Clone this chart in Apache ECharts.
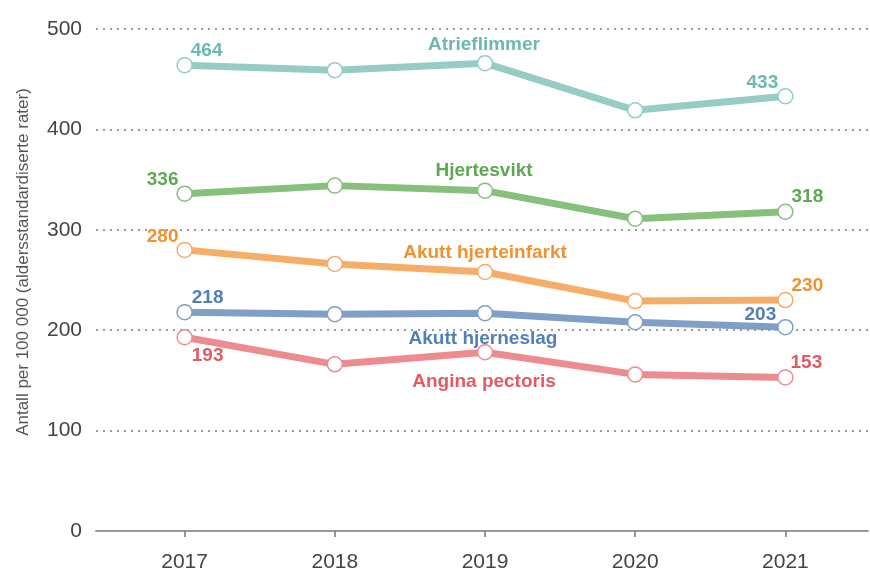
<!DOCTYPE html>
<html>
<head>
<meta charset="utf-8">
<script src="https://cdn.jsdelivr.net/npm/echarts@6/dist/echarts.min.js"></script>
<style>
  html, body { margin: 0; padding: 0; background: #fff; }
  #chart { width: 870px; height: 573px; }
</style>
</head>
<body>
<div id="chart"></div>
<script>
const years = [2017, 2018, 2019, 2020, 2021]
const atrieflimmer = [464, 459, 466, 419, 433]
const hjertesvikt = [336, 344, 339, 311, 318]
const hjerteinfarkt = [280, 266, 258, 229, 230]
const hjerneslag = [218, 216, 217, 208, 203]
const angina = [193, 166, 178, 156, 153]
const yTicks = [0, 100, 200, 300, 400, 500]

// name label at 2019, value labels at 2017 and 2021
const seriesDefs = [
  {
    name: 'Atrieflimmer', values: atrieflimmer, line: '#95ccc6', text: '#6db9b1',
    first: { position: 'top', offset: [22, 8] },
    last: { position: 'top', offset: [-23, 9] },
    mid: { position: 'top', offset: [-1, 4] }
  },
  {
    name: 'Hjertesvikt', values: hjertesvikt, line: '#86c07c', text: '#5ea852',
    first: { position: 'top', offset: [-22, 9] },
    last: { position: 'top', offset: [22, 8] },
    mid: { position: 'top', offset: [-1, 3] }
  },
  {
    name: 'Akutt hjerteinfarkt', values: hjerteinfarkt, line: '#f6ad67', text: '#f0922e',
    first: { position: 'top', offset: [-22, 10] },
    last: { position: 'top', offset: [22, 8] },
    mid: { position: 'top', offset: [0, 4] }
  },
  {
    name: 'Akutt hjerneslag', values: hjerneslag, line: '#7f9fc6', text: '#5180b6',
    first: { position: 'top', offset: [23, 8] },
    last: { position: 'top', offset: [-25, 10] },
    mid: { position: 'bottom', offset: [-2, 3] }
  },
  {
    name: 'Angina pectoris', values: angina, line: '#ec8c90', text: '#e35a62',
    first: { position: 'bottom', offset: [23, -4] },
    last: { position: 'top', offset: [21, 8] },
    mid: { position: 'bottom', offset: [-1, 7] }
  }
]

const baseFont = 'Liberation Sans, Arial, sans-serif'
const labelFont = { fontFamily: baseFont, fontSize: 19, fontWeight: 'bold' }

const chart = echarts.init(document.getElementById('chart'))

chart.setOption({
  animation: false,
  grid: { left: 96, right: 2, top: 29, bottom: 42 },
  xAxis: {
    type: 'value',
    min: 2016.41,
    max: 2021.55,
    axisLine: { show: true, lineStyle: { color: '#9a9a9a', width: 2 } },
    axisTick: { show: true, customValues: years, length: 6, lineStyle: { color: '#777', width: 1.5 } },
    axisLabel: {
      customValues: years,
      color: '#444',
      fontSize: 21,
      fontFamily: baseFont,
      margin: 21,
      formatter: v => String(v)
    },
    splitLine: { show: false }
  },
  yAxis: {
    type: 'value',
    min: yTicks[0],
    max: yTicks[yTicks.length - 1],
    interval: 100,
    name: 'Antall per 100 000 (aldersstandardiserte rater)',
    nameLocation: 'middle',
    nameGap: 64,
    nameTextStyle: { color: '#555', fontSize: 17, fontFamily: baseFont, padding: [0, 0, 0, 36] },
    axisLine: { show: false },
    axisTick: { show: false },
    axisLabel: { color: '#444', fontSize: 21, fontFamily: baseFont, margin: 14, padding: [0, 0, 6, 0] },
    splitLine: {
      show: true,
      lineStyle: { color: '#999', type: [2, 5], width: 2 }
    }
  },
  series: seriesDefs.map(s => ({
    name: s.name,
    type: 'line',
    data: s.values.map((v, i) => {
      const item = { value: [years[i], v] }
      let cfg = null
      let text = null
      if (i === 0) { cfg = s.first; text = String(v) }
      else if (i === s.values.length - 1) { cfg = s.last; text = String(v) }
      else if (i === 2) { cfg = s.mid; text = s.name }
      if (cfg) {
        item.label = Object.assign({ show: true, color: s.text, formatter: text }, labelFont, cfg)
      }
      return item
    }),
    lineStyle: { color: s.line, width: 7 },
    symbol: 'circle',
    symbolSize: 15,
    itemStyle: { color: '#fff', borderColor: s.line, borderWidth: 1.5 },
    label: { show: false },
    emphasis: { disabled: true }
  }))
})
</script>
</body>
</html>
